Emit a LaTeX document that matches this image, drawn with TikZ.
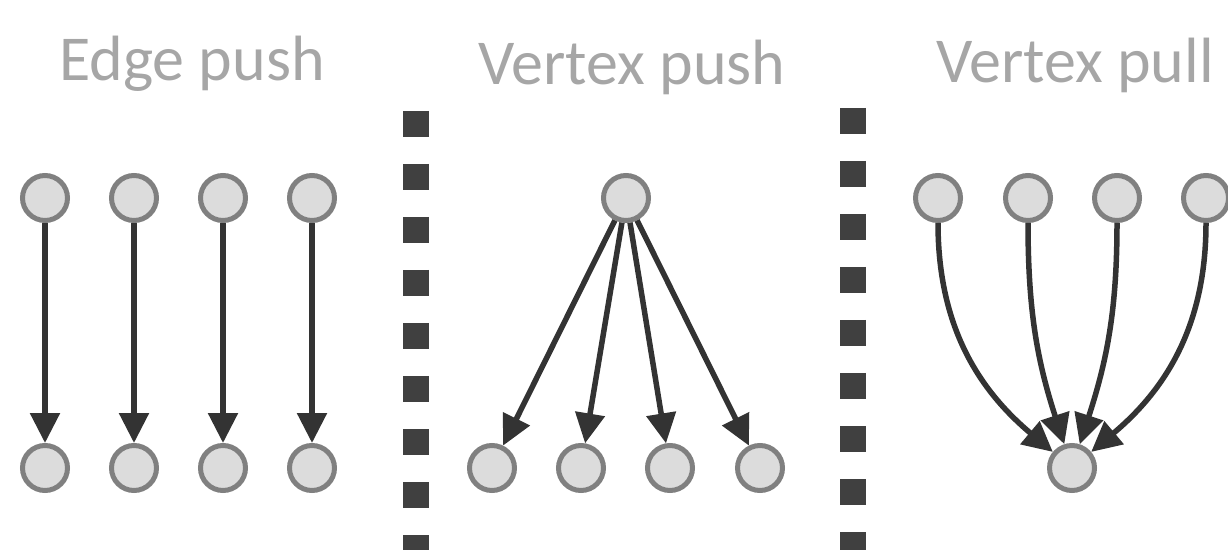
\documentclass[tikz,border=0pt]{standalone}
\usepackage{fontspec}
\setmainfont{Carlito}
\usetikzlibrary{arrows.meta}
\definecolor{nodefill}{HTML}{DCDCDC}
\definecolor{nodeline}{HTML}{808080}
\definecolor{arrcol}{HTML}{333333}
\definecolor{sepcol}{HTML}{404040}
\definecolor{titlecol}{HTML}{A6A6A6}
\tikzset{
  vtx/.style={circle, fill=nodefill, draw=nodeline, line width=5pt, minimum size=45pt, inner sep=0pt},
  arr/.style={draw=arrcol, line width=5.5pt, -{Triangle[length=30pt,width=29pt]}},
  sepline/.style={draw=sepcol, line width=26pt, dash pattern=on 26pt off 27pt},
  ttl/.style={text=titlecol, font=\fontsize{64}{70}\selectfont, anchor=base, inner sep=0pt}
}
\begin{document}
\begin{tikzpicture}[x=1pt,y=1pt]
\useasboundingbox (0,0) rectangle (1228,549);
% titles
\node[ttl] (t1) at (192,468) {Edge push};
\node[ttl] (t2) at (632,464) {Vertex push};
\node[ttl] (t3) at (1075,466) {Vertex pull};
% separators
\draw[sepline] (416,438) -- (416,-20);
\draw[sepline] (853,441) -- (853,-20);
% edge push
\foreach \i/\x in {1/45,2/134,3/223,4/312}{
  \node[vtx] (ea\i) at (\x,351) {};
  \node[vtx] (eb\i) at (\x,81) {};
  \draw[arr] (ea\i) -- (eb\i);
}
% vertex push
\node[vtx] (va) at (626,351) {};
\foreach \i/\x in {1/492,2/581,3/670,4/760}{
  \node[vtx] (vb\i) at (\x,81) {};
  \draw[arr] (va) -- (vb\i);
}
% vertex pull
\node[vtx] (pb) at (1072,81) {};
\foreach \i/\x in {1/938,2/1028,3/1117,4/1206}{
  \node[vtx] (pa\i) at (\x,351) {};
}
\draw[arr] (pa1) to[out=-90,in=140] (pb);
\draw[arr] (pa2) to[out=-90,in=108] (pb);
\draw[arr] (pa3) to[out=-90,in=72] (pb);
\draw[arr] (pa4) to[out=-90,in=40] (pb);
\end{tikzpicture}
\end{document}
